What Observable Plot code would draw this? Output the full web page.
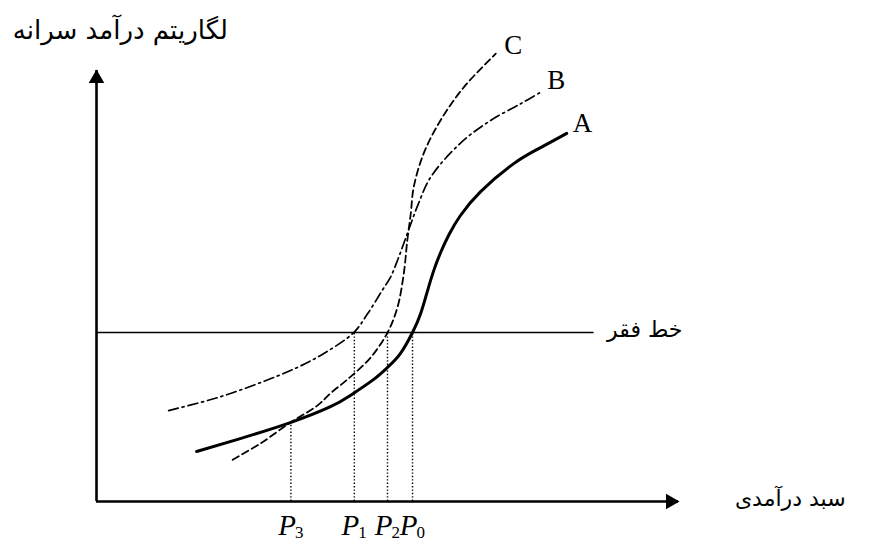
<!DOCTYPE html>
<html>
<head>
<meta charset="utf-8">
<script src="https://cdn.jsdelivr.net/npm/d3@7"></script>
<script src="https://cdn.jsdelivr.net/npm/@observablehq/plot@0.6"></script>
<style>
  html, body { margin: 0; padding: 0; background: #fff; }
</style>
</head>
<body>
<div id="chart"></div>
<script>
// Curve A (solid)
const aX = [17.2, 24.7, 33.3, 40.2, 43.6, 47.4, 50.0, 52.2, 54.3, 55.7, 56.9, 58.0, 59.2, 60.6, 62.5, 66.0, 71.7, 76.3, 80.8];
const aY = [11.6, 14.6, 18.3, 22.0, 24.6, 28.1, 31.1, 34.3, 39.2, 43.6, 49.0, 53.8, 58.0, 62.0, 66.3, 71.9, 78.4, 82.1, 85.4];
// Curve B (dash-dot)
const bX = [12.4, 20.8, 28.2, 34.5, 39.0, 44.2, 46.6, 49.1, 50.5, 51.9, 53.6, 55.2, 57.4, 62.5, 67.7, 72.9, 76.5];
const bY = [21.1, 24.1, 27.6, 31.1, 34.3, 39.2, 43.6, 49.0, 52.0, 56.6, 62.9, 68.7, 75.2, 83.1, 88.4, 92.3, 95.1];
// Curve C (dashed)
const cX = [23.4, 28.2, 33.3, 38.0, 40.2, 43.1, 47.1, 50.0, 51.7, 52.8, 53.4, 54.0, 54.5, 56.2, 59.1, 63.1, 68.6];
const cY = [9.7, 13.5, 18.3, 22.3, 25.1, 28.3, 33.4, 39.2, 45.0, 52.9, 60.6, 66.8, 72.9, 80.7, 88.4, 96.1, 103.9];

const curveNames = ["A", "B", "C"];
const curveLabelX = [83.5, 79.0, 71.6];
const curveLabelY = [87.7, 97.7, 105.8];

const povertyLevel = 39.2;
const povertyEnd = 85.5;
const povertyText = "خط فقر";

const pSubs = ["3", "1", "2", "0"];
const pX = [33.4, 44.3, 50.0, 54.3];
const pTop = [18.3, 39.2, 39.2, 39.2];

const yTitle = "لگاریتم درآمد سرانه";
const xTitle = "سبد درآمدی";

const toPts = (xs, ys) => xs.map((x, i) => ({x, y: ys[i]}));
const A = toPts(aX, aY), B = toPts(bX, bY), C = toPts(cX, cY);
const curveLabels = curveNames.map((n, i) => ({n, x: curveLabelX[i], y: curveLabelY[i]}));
const pData = pSubs.map((s, i) => ({s, x: pX[i], top: pTop[i]}));

const persian = "DejaVu Sans, sans-serif";
const serif = "Liberation Serif, Times New Roman, serif";

const chart = Plot.plot({
  width: 873,
  height: 543,
  marginLeft: 96,
  marginRight: 195,
  marginTop: 70,
  marginBottom: 42,
  x: {domain: [0, 100], axis: null},
  y: {domain: [0, 100], axis: null},
  style: {background: "#fff", overflow: "visible"},
  marks: [
    // poverty line
    Plot.ruleY([povertyLevel], {x1: 0, x2: povertyEnd, stroke: "#000", strokeWidth: 1.6}),
    // dotted verticals
    Plot.ruleX(pData, {x: "x", y1: 0, y2: "top", stroke: "#000", strokeWidth: 1.4, strokeDasharray: "1.4,2"}),
    // curves
    Plot.line(B, {x: "x", y: "y", curve: "catmull-rom", stroke: "#000", strokeWidth: 1.7, strokeDasharray: "10,4,2,4"}),
    Plot.line(C, {x: "x", y: "y", curve: "catmull-rom", stroke: "#000", strokeWidth: 1.8, strokeDasharray: "7,4"}),
    Plot.line(A, {x: "x", y: "y", curve: "natural", stroke: "#000", strokeWidth: 3}),
    // axes
    Plot.ruleY([0], {x1: 0, x2: 100, stroke: "#000", strokeWidth: 2.6}),
    Plot.ruleX([0], {y1: 0, y2: 100, stroke: "#000", strokeWidth: 2.6}),
    Plot.dot([{x: 100, y: 0}], {x: "x", y: "y", symbol: "triangle", r: 5.8, rotate: 90, fill: "#000", stroke: "none", dx: -8}),
    Plot.dot([{x: 0, y: 100}], {x: "x", y: "y", symbol: "triangle", r: 5.8, rotate: 0, fill: "#000", stroke: "none", dy: 8}),
    // curve labels
    Plot.text(curveLabels, {x: "x", y: "y", text: "n", fontFamily: serif, fontSize: 27, fill: "#000", textAnchor: "middle"}),
    // P labels
    Plot.text(pData, {x: "x", y: 0, text: () => "P", fontFamily: serif, fontStyle: "italic", fontSize: 29, fill: "#000", textAnchor: "end", dx: 5, dy: 24}),
    Plot.text(pData, {x: "x", y: 0, text: "s", fontFamily: serif, fontSize: 17, fill: "#000", textAnchor: "start", dx: 4, dy: 31}),
    // Persian texts
    Plot.text([{x: 94.2, y: povertyLevel}], {x: "x", y: "y", text: () => povertyText, fontFamily: persian, fontSize: 22, fill: "#000", textAnchor: "middle", dy: -3}),
    Plot.text([{x: 119.2, y: 0}], {x: "x", y: "y", text: () => xTitle, fontFamily: persian, fontSize: 22, fill: "#000", textAnchor: "middle", dy: -3}),
    Plot.text([{x: 4.1, y: 109.3}], {x: "x", y: "y", text: () => yTitle, fontFamily: persian, fontSize: 26, fill: "#000", textAnchor: "middle"})
  ]
});
document.getElementById("chart").appendChild(chart);
</script>
</body>
</html>
